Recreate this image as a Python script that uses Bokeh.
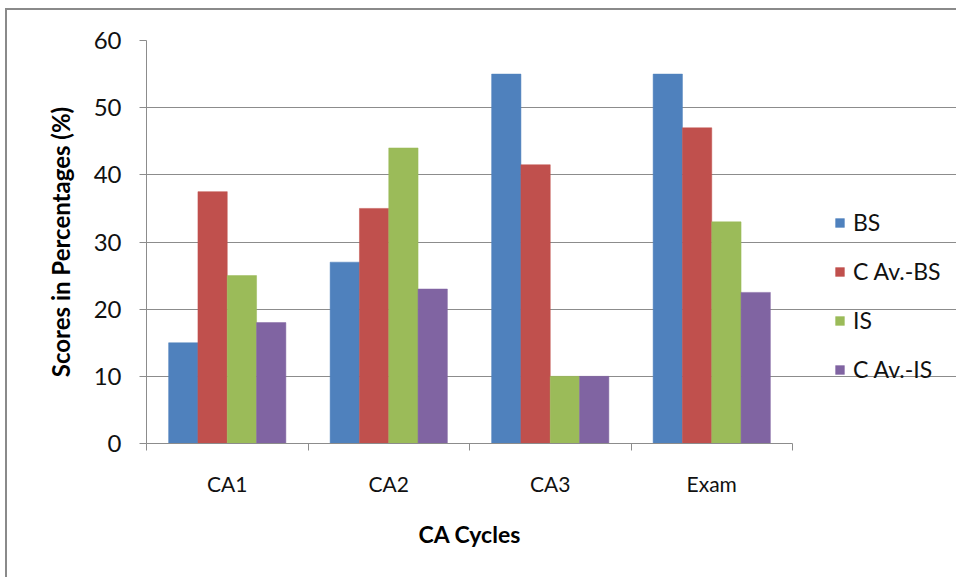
from bokeh.plotting import figure
from bokeh.models import (Range1d, FixedTicker, Legend, LegendItem, ColumnDataSource, Title)
from bokeh.transform import dodge
from bokeh.embed import file_html
from bokeh.resources import INLINE

categories = ["CA1", "CA2", "CA3", "Exam"]
series_names = ["BS", "C Av.-BS", "IS", "C Av.-IS"]
bs = [15, 27, 55, 55]
cav_bs = [37.5, 35, 41.5, 47]
is_ = [25, 44, 10, 33]
cav_is = [18, 23, 10, 22.5]
colors = ["#4F81BD", "#C0504D", "#9BBB59", "#8064A2"]
y_ticks = [0, 10, 20, 30, 40, 50, 60]
x_title = "CA Cycles"
y_title = "Scores in Percentages (%)"

FONT = "Lato"
GREY = "#8c8c8c"

n = len(categories)
centers = [i + 0.5 for i in range(n)]
src = ColumnDataSource(dict(xc=centers, bs=bs, cav_bs=cav_bs, is_=is_, cav_is=cav_is))

# layout (pixels)
W, H = 951, 569
left, top, bottom = 139, 30, 136
plot_px = 646                      # width of the bar area
frame_px = W - left                 # frame runs to the right edge (legend lives there)
x_end = n * frame_px / plot_px

p = figure(x_range=Range1d(0, x_end), y_range=Range1d(0, 60),
           width=W, height=H, output_backend="svg", toolbar_location=None,
           min_border_left=left, min_border_right=0,
           min_border_top=top, min_border_bottom=bottom)
p.outline_line_color = None
p.background_fill_color = "white"
p.border_fill_color = "white"
p.styles = {"margin-left": "5px", "margin-top": "8px",
            "border-left": "2px solid #8a8a8a", "border-top": "2px solid #8a8a8a"}

w = 0.1815
cols = ["bs", "cav_bs", "is_", "cav_is"]
items = []
for i, (c, col, name) in enumerate(zip(cols, colors, series_names)):
    r = p.vbar(x=dodge("xc", (i - 1.5) * w), top=c, width=w,
               source=src, fill_color=col, line_color=col, line_width=0.5)
    items.append(LegendItem(label=name, renderers=[r]))

# y axis
ya = p.yaxis[0]
ya.ticker = FixedTicker(ticks=y_ticks)
ya.minor_tick_line_color = None
ya.major_tick_in = 0
ya.major_tick_out = 7
ya.axis_line_color = GREY
ya.major_tick_line_color = GREY
ya.major_label_text_font = FONT
ya.major_label_text_font_size = "24px"
ya.major_label_text_color = "#111111"
ya.major_label_standoff = 18
ya.axis_label = y_title
ya.axis_label_text_font = FONT
ya.axis_label_text_font_style = "bold"
ya.axis_label_text_font_size = "24px"
ya.axis_label_text_color = "#000000"
ya.axis_label_standoff = 16

p.ygrid.ticker = FixedTicker(ticks=y_ticks)
p.ygrid.grid_line_color = GREY
p.ygrid.grid_line_width = 1
p.ygrid.bounds = (0, n)
p.xgrid.grid_line_color = None

# x axis: labels at category centres, ticks at category boundaries
xa = p.xaxis[0]
xa.bounds = (0, n)
xa.ticker = FixedTicker(ticks=centers, minor_ticks=list(range(n + 1)))
xa.major_label_overrides = {x: c for x, c in zip(centers, categories)}
xa.major_tick_in = 0
xa.major_tick_out = 0
xa.minor_tick_in = 0
xa.minor_tick_out = 7
xa.axis_line_color = GREY
xa.minor_tick_line_color = GREY
xa.major_label_text_font = FONT
xa.major_label_text_font_size = "21px"
xa.major_label_text_color = "#111111"
xa.major_label_standoff = 20

# x axis title centred under the bar area (not the legend area)
xt = Title(text=x_title, align="left", offset=272, standoff=38,
           text_font=FONT, text_font_style="bold", text_font_size="23px",
           text_color="#000000")
p.add_layout(xt, "below")

legend = Legend(items=items, location=(688, 60), orientation="vertical",
                label_text_font=FONT, label_text_font_size="23px",
                label_text_color="#111111", glyph_width=11, glyph_height=11,
                label_height=24, spacing=21, padding=0, margin=0,
                label_standoff=8, border_line_color=None,
                background_fill_alpha=0)
p.add_layout(legend, "center")

open("out.html", "w").write(file_html(p, INLINE))
